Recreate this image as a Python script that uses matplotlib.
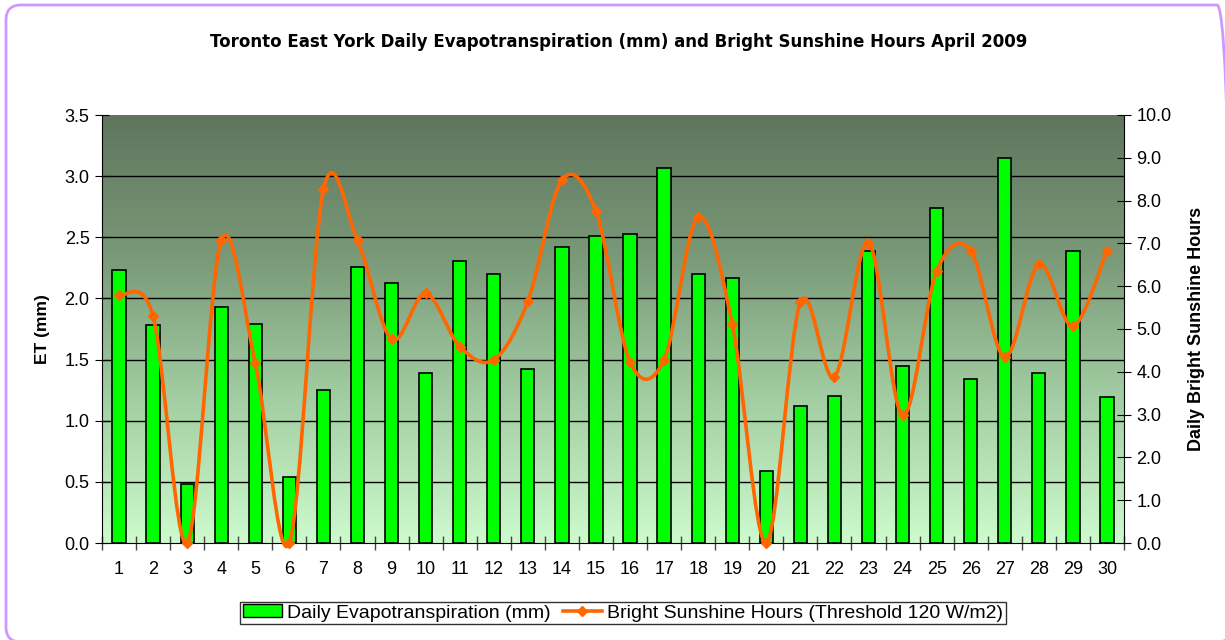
import numpy as np
import matplotlib
matplotlib.use("Agg")
import matplotlib.pyplot as plt
from matplotlib.path import Path
from matplotlib.patches import PathPatch, FancyBboxPatch
from matplotlib.lines import Line2D
from matplotlib.colors import LinearSegmentedColormap

days = list(range(1, 31))
et_mm = [2.23, 1.78, 0.48, 1.93, 1.79, 0.54, 1.25, 2.26, 2.13, 1.39,
         2.31, 2.20, 1.42, 2.42, 2.51, 2.53, 3.07, 2.20, 2.17, 0.59,
         1.12, 1.20, 2.39, 1.45, 2.74, 1.34, 3.15, 1.39, 2.39, 1.19]
sun_hours = [5.79, 5.30, 0.0, 7.07, 4.20, 0.0, 8.26, 7.07, 4.76, 5.83,
             4.59, 4.28, 5.65, 8.48, 7.75, 4.23, 4.28, 7.62, 5.12, 0.0,
             5.62, 3.88, 7.02, 2.98, 6.35, 6.83, 4.34, 6.51, 5.07, 6.83]

title = "Toronto East York Daily Evapotranspiration (mm) and Bright Sunshine Hours April 2009"
et_label = "Daily Evapotranspiration (mm)"
sun_label = "Bright Sunshine Hours (Threshold 120 W/m2)"

plt.rcParams["font.family"] = ["Liberation Sans", "DejaVu Sans"]

fig = plt.figure(figsize=(12.25, 6.4), dpi=100)
W, H = 1225, 640

# rounded purple frame (inches), slightly larger than the canvas on right/bottom
frame = FancyBboxPatch((0.06, -0.02), 12.26, 6.37,
                       boxstyle="round,pad=0,rounding_size=0.15",
                       transform=fig.dpi_scale_trans, fill=False,
                       edgecolor="#cc99ff", linewidth=2, clip_on=False)
fig.patches.append(frame)

ax = fig.add_axes([102 / W, 1 - 543 / H, (1124 - 102) / W, (543 - 115) / H])
ax2 = ax.twinx()
ax.set_zorder(ax2.get_zorder() - 1)
ax.patch.set_visible(False)

# gradient plot background
cmap = LinearSegmentedColormap.from_list("bg", ["#cdfbcd", "#a3cea3", "#7a9a78", "#5f755e"])
grad = np.linspace(0, 1, 256).reshape(-1, 1)
ax.imshow(grad, extent=[0, 1, 0, 1], transform=ax.transAxes, origin="lower",
          aspect="auto", cmap=cmap, zorder=0)

x = np.arange(len(days))
ax.bar(x, et_mm, width=0.39, color="#00ff00", edgecolor="black", linewidth=1.2, zorder=3)
ax.set_ylim(0, 3.5)
ax.set_xlim(-0.5, len(days) - 0.5)
ax.set_yticks(np.arange(0, 3.51, 0.5))
ax.set_yticklabels([f"{v:.1f}" for v in np.arange(0, 3.51, 0.5)])
for v in np.arange(0.5, 3.5, 0.5):
    ax.axhline(v, color="black", linewidth=1, zorder=1)
ax.set_xticks(x)
ax.set_xticklabels([str(d) for d in days])
ax.set_xticks(np.arange(-0.5, len(days), 1), minor=True)
ax.tick_params(axis="x", which="major", length=0, labelsize=13, pad=13)
ax.tick_params(axis="x", which="minor", length=10, direction="inout", width=1, color="#444444")
ax.tick_params(axis="y", length=10, direction="inout", labelsize=13, pad=4)
ax.set_ylabel("ET (mm)", fontsize=12.5, fontweight="bold", labelpad=10)

# smoothed sunshine line (Catmull-Rom style bezier, like the spreadsheet)
pts = np.column_stack([x, sun_hours]).astype(float)
verts = [tuple(pts[0])]
codes = [Path.MOVETO]
for i in range(len(pts) - 1):
    p0 = pts[i - 1] if i > 0 else pts[i]
    p1 = pts[i]
    p2 = pts[i + 1]
    p3 = pts[i + 2] if i + 2 < len(pts) else pts[i + 1]
    c1 = p1 + (p2 - p0) / 6.0
    c2 = p2 - (p3 - p1) / 6.0
    verts += [tuple(c1), tuple(c2), tuple(p2)]
    codes += [Path.CURVE4, Path.CURVE4, Path.CURVE4]
ax2.add_patch(PathPatch(Path(verts, codes), fill=False, edgecolor="#ff6600",
                        linewidth=2.6, zorder=4, clip_on=False))
ax2.plot(x, sun_hours, linestyle="none", marker="D", markersize=5.5,
         color="#ff6600", zorder=5, clip_on=False)
ax2.set_ylim(0, 10)
ax2.set_yticks(np.arange(0, 10.1, 1))
ax2.set_yticklabels([f"{v:.1f}" for v in np.arange(0, 10.1, 1)])
ax2.tick_params(axis="y", length=10, direction="inout", labelsize=13, pad=4)
ax2.set_ylabel("Daily Bright Sunshine Hours", fontsize=13, fontweight="bold", labelpad=12)

for a in (ax, ax2):
    a.spines["top"].set_visible(False)
    for s in ("left", "right", "bottom"):
        a.spines[s].set_color("black")
ax2.spines["bottom"].set_visible(False)
ax.spines["right"].set_visible(False)
ax2.spines["left"].set_visible(False)

fig.text(0.505, 1 - 42 / H, title, ha="center", va="center",
         fontsize=12, fontweight="bold", family=["DejaVu Sans"])

handles = [
    plt.Rectangle((0, 0), 1, 1, facecolor="#00ff00", edgecolor="black", linewidth=1),
    Line2D([], [], color="#ff6600", linewidth=2.6, marker="D", markersize=5.5),
]
leg = fig.legend(handles, [et_label, sun_label], loc="center",
                 bbox_to_anchor=(623 / W, 1 - 613 / H), ncol=2, fontsize=14,
                 frameon=True, fancybox=False, edgecolor="black",
                 handlelength=2.0, handleheight=0.6, handletextpad=0.3,
                 columnspacing=0.6, borderpad=0.15)
leg.get_frame().set_linewidth(1)

fig.savefig("out.png", dpi=100)
